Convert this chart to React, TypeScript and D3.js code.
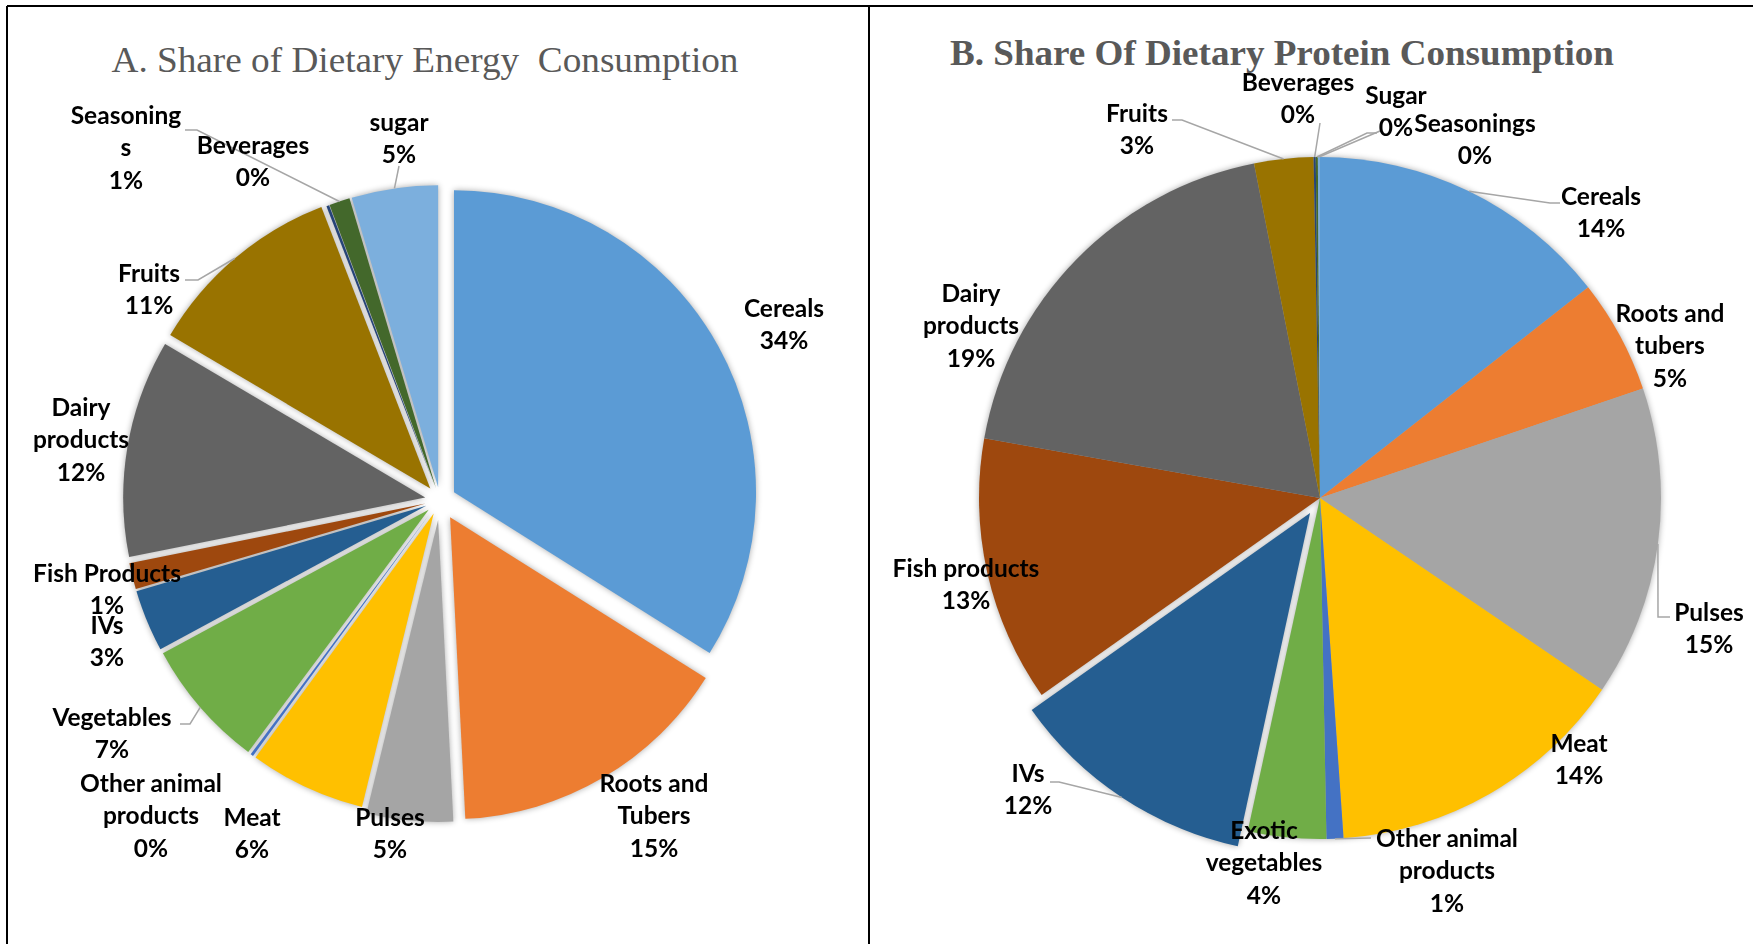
import React from 'react';
import * as d3 from 'd3';

// ---------- DATA ----------
const energyCategories = [
  'Cereals', 'Roots and Tubers', 'Pulses', 'Meat', 'Other animal products', 'Vegetables',
  'IVs', 'Fish Products', 'Dairy products', 'Fruits', 'Beverages', 'Seasonings', 'sugar',
];
const energyShares = [33.8, 15.2, 4.6, 6.2, 0.15, 6.9, 3.3, 1.4, 11.6, 10.6, 0.15, 1.1, 4.6];

const proteinCategories = [
  'Cereals', 'Roots and tubers', 'Pulses', 'Meat', 'Other animal products', 'Exotic vegetables',
  'IVs', 'Fish products', 'Dairy products', 'Fruits', 'Beverages', 'Sugar', 'Seasonings',
];
const proteinShares = [14.4, 5.4, 14.7, 14.4, 0.8, 3.7, 11.8, 12.6, 19.1, 2.8, 0.1, 0.1, 0.1];

const titleA = 'A. Share of Dietary Energy  Consumption';
const titleB = 'B. Share Of Dietary Protein Consumption';

// ---------- STYLE / LAYOUT ----------
const officePalette = [
  '#5B9BD5', '#ED7D31', '#A5A5A5', '#FFC000', '#4472C4', '#70AD47',
  '#255E91', '#9E480E', '#636363', '#997300', '#264478', '#43682B', '#7CAFDD',
];

type LabelSpec = { lines: string[]; x: number; y: number; leader?: [number, number][] };

const energyExplode = [16, 20, 20, 15, 15, 15, 15, 15, 15, 15, 13, 13, 13];
const proteinExplode = [0, 0, 0, 0, 0, 0, 18, 0, 0, 0, 0, 0, 0];

const energyLabels: LabelSpec[] = [
  { lines: ['Cereals'], x: 784, y: 308 },
  { lines: ['Roots and', 'Tubers'], x: 654, y: 783 },
  { lines: ['Pulses'], x: 390, y: 817 },
  { lines: ['Meat'], x: 252, y: 817 },
  { lines: ['Other animal', 'products'], x: 151, y: 783 },
  { lines: ['Vegetables'], x: 112, y: 717, leader: [[180, 724], [190, 724]] },
  { lines: ['IVs'], x: 107, y: 625 },
  { lines: ['Fish Products'], x: 107, y: 573 },
  { lines: ['Dairy', 'products'], x: 81, y: 407 },
  { lines: ['Fruits'], x: 149, y: 273, leader: [[185, 280], [198, 280]] },
  { lines: ['Beverages'], x: 253, y: 145 },
  { lines: ['Seasoning', 's'], x: 126, y: 115, leader: [[185, 130], [197, 130]] },
  { lines: ['sugar'], x: 399, y: 122, leader: [[399, 166]] },
];

const proteinLabels: LabelSpec[] = [
  { lines: ['Cereals'], x: 1601, y: 196, leader: [[1560, 203], [1550, 203]] },
  { lines: ['Roots and', 'tubers'], x: 1670, y: 313 },
  { lines: ['Pulses'], x: 1709, y: 612, leader: [[1670, 617], [1658, 617]] },
  { lines: ['Meat'], x: 1579, y: 743 },
  { lines: ['Other animal', 'products'], x: 1447, y: 838, leader: [[1371, 838]] },
  { lines: ['Exotic', 'vegetables'], x: 1264, y: 830 },
  { lines: ['IVs'], x: 1028, y: 773, leader: [[1050, 782], [1059, 782]] },
  { lines: ['Fish products'], x: 966, y: 568 },
  { lines: ['Dairy', 'products'], x: 971, y: 293 },
  { lines: ['Fruits'], x: 1137, y: 113, leader: [[1172, 120], [1182, 120]] },
  { lines: ['Beverages'], x: 1298, y: 82, leader: [[1320, 123]] },
  { lines: ['Sugar'], x: 1396, y: 95, leader: [[1377, 133], [1367, 133]] },
  { lines: ['Seasonings'], x: 1475, y: 123, leader: [[1380, 131]] },
];

const LABEL_FONT = 'Lato, "Open Sans", "DejaVu Sans", sans-serif';
const LABEL_SIZE = 24.5;
const LINE_H = 32.5;

type PieProps = {
  id: string;
  cx: number;
  cy: number;
  r: number;
  values: number[];
  explode: number[];
  labels: LabelSpec[];
};

function Pie({ id, cx, cy, r, values, explode, labels }: PieProps) {
  const pie = d3.pie<number>().sort(null).value((d) => d).startAngle(0).endAngle(Math.PI * 2);
  const arcs = pie(values);
  const arcGen = d3.arc<d3.PieArcDatum<number>>().innerRadius(0).outerRadius(r);
  const total = d3.sum(values);

  const off = (a: d3.PieArcDatum<number>, i: number) => {
    const m = (a.startAngle + a.endAngle) / 2;
    return [explode[i] * Math.sin(m), -explode[i] * Math.cos(m)];
  };

  return (
    <g>
      <defs>
        <filter id={id + '-sh'} x="-20%" y="-20%" width="140%" height="140%">
          <feGaussianBlur stdDeviation="3.2" />
        </filter>
      </defs>
      <g transform={`translate(${cx},${cy})`}>
        <g filter={`url(#${id}-sh)`} opacity={0.34}>
          {arcs.map((a, i) => {
            const [dx, dy] = off(a, i);
            return <path key={'s' + i} d={arcGen(a) || ''} transform={`translate(${dx},${dy})`} fill="#000" />;
          })}
        </g>
        {arcs.map((a, i) => {
          const [dx, dy] = off(a, i);
          return (
            <path
              key={'p' + i}
              d={arcGen(a) || ''}
              transform={`translate(${dx},${dy})`}
              fill={officePalette[i % officePalette.length]}
            />
          );
        })}
      </g>
      {arcs.map((a, i) => {
        const spec = labels[i];
        if (!spec.leader) return null;
        const m = (a.startAngle + a.endAngle) / 2;
        const rr = r + explode[i];
        const end: [number, number] = [cx + rr * Math.sin(m), cy - rr * Math.cos(m)];
        const pts = [...spec.leader, end];
        return (
          <path
            key={'l' + i}
            d={d3.line()(pts) || ''}
            fill="none"
            stroke="#A6A6A6"
            strokeWidth={1.5}
          />
        );
      })}
      {arcs.map((a, i) => {
        const spec = labels[i];
        const pct = Math.round((a.value / total) * 100) + '%';
        const lines = [...spec.lines, pct];
        return (
          <text
            key={'t' + i}
            x={spec.x}
            y={spec.y + 8.5}
            textAnchor="middle"
            fontFamily={LABEL_FONT}
            fontWeight={700}
            fontSize={LABEL_SIZE}
            fill="#000"
          >
            {lines.map((ln, k) => (
              <tspan key={k} x={spec.x} dy={k === 0 ? 0 : LINE_H}>
                {ln}
              </tspan>
            ))}
          </text>
        );
      })}
    </g>
  );
}

export default function App() {
  const W = 1753;
  const H = 944;
  return (
    <svg
      width={W}
      height={H}
      viewBox={`0 0 ${W} ${H}`}
      style={{ position: 'absolute', left: 0, top: 0, background: '#fff' }}
    >
      <rect x={0} y={0} width={W} height={H} fill="#fff" />
      {/* frame */}
      <line x1={7} y1={6} x2={W} y2={6} stroke="#000" strokeWidth={2} />
      <line x1={7} y1={6} x2={7} y2={H} stroke="#000" strokeWidth={2} />
      <line x1={869} y1={6} x2={869} y2={H} stroke="#000" strokeWidth={2} />

      <text
        x={425}
        y={72}
        textAnchor="middle"
        fontFamily='"Liberation Serif", "Times New Roman", serif'
        fontSize={35}
        fill="#595959"
        textLength={627}
        lengthAdjust="spacingAndGlyphs"
        style={{ whiteSpace: 'pre' }}
      >
        {titleA}
      </text>
      <text
        x={1282}
        y={65}
        textAnchor="middle"
        fontFamily='"Liberation Serif", "Times New Roman", serif'
        fontWeight={700}
        fontSize={35}
        fill="#595959"
        textLength={664}
        lengthAdjust="spacingAndGlyphs"
      >
        {titleB}
      </text>

      <Pie id="energy" cx={440} cy={500} r={302} values={energyShares} explode={energyExplode} labels={energyLabels} />
      <Pie id="protein" cx={1320} cy={498} r={341} values={proteinShares} explode={proteinExplode} labels={proteinLabels} />
    </svg>
  );
}
